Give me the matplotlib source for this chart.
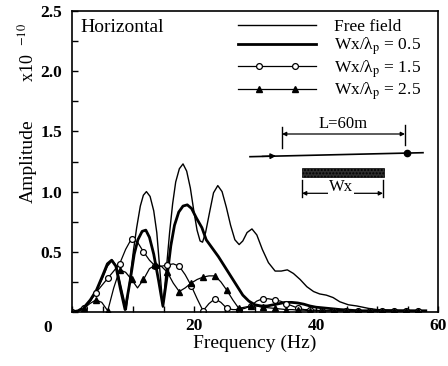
import numpy as np
import matplotlib
matplotlib.use('Agg')
import matplotlib.pyplot as plt
from matplotlib.lines import Line2D
from matplotlib.legend_handler import HandlerLine2D

plt.rcParams['font.family'] = ['Liberation Serif', 'DejaVu Serif']
plt.rcParams['mathtext.fontset'] = 'stix'

# free field (thin line)
free_f = [0, 1, 2, 3, 4, 5, 5.8, 6.6, 7.3, 8.0, 8.9, 9.6, 10.1, 10.6, 11.2, 11.7, 12.2, 12.8,
          13.4, 13.9, 14.4, 14.9, 15.4, 16.0, 16.5, 17.0, 17.6, 18.2, 18.8, 19.4, 20.0, 20.5,
          21.0, 21.4, 21.9, 22.6, 23.2, 23.9, 24.6, 25.3, 26.0, 26.7, 27.4, 28.0, 28.7, 29.5,
          30.3, 31.2, 32.2, 33.3, 34.3, 35.3, 36.3, 37.4, 38.5, 39.6, 40.6, 41.7, 42.8, 43.9,
          45.3, 46.7, 48.6, 50, 53, 58]
free_a = [0, 0.01, 0.04, 0.09, 0.17, 0.28, 0.38, 0.43, 0.38, 0.22, 0.02, 0.32, 0.52, 0.70, 0.88,
          0.97, 1.00, 0.96, 0.84, 0.66, 0.35, 0.04, 0.32, 0.66, 0.90, 1.08, 1.19, 1.23, 1.17,
          1.03, 0.83, 0.68, 0.59, 0.58, 0.66, 0.84, 0.99, 1.05, 1.00, 0.87, 0.72, 0.60, 0.56,
          0.59, 0.66, 0.69, 0.64, 0.52, 0.41, 0.34, 0.34, 0.35, 0.32, 0.27, 0.21, 0.17, 0.15,
          0.14, 0.12, 0.085, 0.06, 0.05, 0.03, 0.02, 0.015, 0.01]

# Wx/lp = 0.5 (thick line)
w05_f = [0, 1, 2, 3, 4, 5, 5.8, 6.5, 7.2, 7.9, 8.7, 9.5, 10.2, 10.8, 11.5, 12.1, 12.7, 13.4,
         14.2, 14.9, 15.6, 16.2, 16.8, 17.5, 18.2, 18.9, 19.6, 20.4, 21.3, 22, 23, 24, 25, 26,
         27, 28, 29, 30, 31, 32, 33, 34, 35, 36, 37, 38, 39, 40, 42, 44, 47, 58]
w05_a = [0, 0.01, 0.04, 0.10, 0.18, 0.30, 0.40, 0.43, 0.38, 0.20, 0.02, 0.25, 0.48, 0.60, 0.67,
         0.68, 0.62, 0.48, 0.26, 0.05, 0.30, 0.55, 0.72, 0.83, 0.88, 0.89, 0.86, 0.78, 0.70,
         0.60, 0.53, 0.46, 0.38, 0.30, 0.22, 0.14, 0.09, 0.06, 0.05, 0.05, 0.06, 0.07, 0.08,
         0.08, 0.075, 0.065, 0.05, 0.04, 0.03, 0.02, 0.01, 0.01]

# Wx/lp = 1.5 and 2.5 share one frequency grid (markers on every second point)
grid_f = [0, 0.98, 1.95, 2.93, 3.91, 4.88, 5.86, 6.84, 7.81, 8.79, 9.77, 10.74, 11.72, 12.70,
          13.67, 14.65, 15.63, 16.60, 17.58, 18.55, 19.53, 20.51, 21.48, 22.46, 23.44, 24.41,
          25.39, 26.37, 27.34, 28.32, 29.30, 30.27, 31.25, 32.23, 33.20, 34.18, 35.16, 36.13,
          37.11, 38.09, 39.06, 40.04, 41.02, 41.99, 42.97, 43.95, 44.92, 45.90, 46.88, 47.85,
          48.83, 49.80, 50.78, 51.76, 52.73, 53.71, 54.69, 55.66, 56.64]
w15_a = [0, 0.01, 0.03, 0.09, 0.16, 0.22, 0.28, 0.34, 0.40, 0.52, 0.61, 0.58, 0.50, 0.43,
         0.38, 0.38, 0.39, 0.40, 0.38, 0.31, 0.22, 0.11, 0.01, 0.07, 0.11, 0.08, 0.03, 0.02,
         0.02, 0.03, 0.05, 0.09, 0.11, 0.11, 0.10, 0.09, 0.07, 0.05, 0.03, 0.02, 0.02, 0.015,
         0.01, 0.01, 0.01, 0.01, 0.01, 0.01, 0.01, 0.01, 0.01, 0.01, 0.01, 0.01, 0.01, 0.01,
         0.01, 0.01, 0.01]
w25_a = [0, 0.01, 0.03, 0.07, 0.10, 0.08, 0.01, 0.20, 0.35, 0.33, 0.27, 0.20, 0.27, 0.36,
         0.39, 0.38, 0.33, 0.24, 0.17, 0.20, 0.24, 0.27, 0.29, 0.30, 0.30, 0.25, 0.18, 0.10,
         0.03, 0.04, 0.05, 0.05, 0.04, 0.035, 0.03, 0.025, 0.02, 0.02, 0.015, 0.015, 0.01,
         0.01, 0.01, 0.01, 0.01, 0.01, 0.01, 0.01, 0.01, 0.01, 0.01, 0.01, 0.01, 0.01, 0.01,
         0.01, 0.01, 0.01, 0.01]

labels = ['Free field', r'Wx/λ$_\mathrm{p}$ = 0.5', r'Wx/λ$_\mathrm{p}$ = 1.5',
          r'Wx/λ$_\mathrm{p}$ = 2.5']


class InsetMarkers(HandlerLine2D):
    # full-length legend line, two markers set in from the ends
    def create_artists(self, legend, orig_handle, xdescent, ydescent, width, height,
                       fontsize, trans):
        y = (height - ydescent) / 2
        line = Line2D([-xdescent, -xdescent + width], [y, y], color='black',
                      lw=orig_handle.get_linewidth())
        pad = 1.2 * fontsize
        mk = Line2D([-xdescent + pad, -xdescent + width - pad], [y, y], ls='none',
                    marker=orig_handle.get_marker(), ms=orig_handle.get_markersize(),
                    mfc=orig_handle.get_markerfacecolor(), mec='black',
                    mew=orig_handle.get_markeredgewidth())
        line.set_transform(trans)
        mk.set_transform(trans)
        return [line, mk]


fig = plt.figure(figsize=(4.48, 3.66), dpi=100)
ax = fig.add_axes([72 / 448, 54 / 366, 366 / 448, 301 / 366])

l0, = ax.plot(free_f, free_a, color='black', lw=1.0)
l1, = ax.plot(w05_f, w05_a, color='black', lw=2.0)
l2, = ax.plot(grid_f, w15_a, color='black', lw=0.9, marker='o', ms=4.2,
              mfc='white', mec='black', mew=0.9, markevery=2)
l3, = ax.plot(grid_f, w25_a, color='black', lw=0.9, marker='^', ms=4.2,
              mfc='black', mec='black', markevery=2)

ax.set_xlim(0, 60)
ax.set_ylim(0, 2.5)
ax.set_xticks(np.arange(0, 61, 5))
ax.set_xticklabels(['', '', '', '', '20', '', '', '', '40', '', '', '', '60'])
ax.set_yticks(np.arange(0, 2.51, 0.25))
ax.set_yticklabels(['', '', '0.5', '', '1.0', '', '1.5', '', '2.0', '', '2.5'])
ax.tick_params(direction='in', length=4, width=1, labelsize=12.5)
ax.tick_params(axis='y', pad=7)
ax.tick_params(axis='x', pad=4)
for lab in ax.get_xticklabels() + ax.get_yticklabels():
    lab.set_fontweight('bold')
for sp in ax.spines.values():
    sp.set_linewidth(1.2)

ax.set_xlabel('Frequency (Hz)', fontsize=14, labelpad=1)
ax.set_ylabel('Amplitude', fontsize=14, labelpad=3)
fig.text(48 / 448, 1 - 328 / 366, '0', fontsize=12.5, fontweight='bold',
         ha='center', va='center')
fig.text(27 / 448, 1 - 52 / 366, r'x10  $^{-10}$', fontsize=13, rotation=90,
         ha='center', va='center')

ax.text(0.022, 0.975, 'Horizontal', transform=ax.transAxes, fontsize=14,
        ha='left', va='top')

ax.legend([l0, l1, l2, l3], labels, loc='upper left', bbox_to_anchor=(0.4536, 0.975),
          frameon=False, fontsize=12.5, handlelength=4.5, handletextpad=1.0,
          borderpad=0, borderaxespad=0, labelspacing=0.05,
          handler_map={l2: InsetMarkers(), l3: InsetMarkers()})

# inset sketch
def axc(px, py):
    return ((px - 72) / 366, (312 - py) / 301)

tr = ax.transAxes
for x, y0, y1 in [(282, 127, 148), (405, 125, 145)]:
    a, b = axc(x, y0)
    _, c = axc(x, y1)
    ax.plot([a, a], [b, c], color='black', lw=1, transform=tr)
ax.annotate('', xy=axc(405, 134), xytext=axc(282, 134), xycoords=tr, textcoords=tr,
            arrowprops=dict(arrowstyle='<|-|>', color='black', lw=0.9,
                            mutation_scale=6, shrinkA=0, shrinkB=0))
ax.text(*axc(343, 124), 'L=60m', transform=tr, fontsize=12, ha='center', va='center')
p0 = axc(250, 156.7)
p1 = axc(423, 152.7)
ax.plot([p0[0], p1[0]], [p0[1], p1[1]], color='black', lw=1.2, transform=tr)
ax.annotate('', xy=axc(276, 156), xytext=axc(262, 156.4), xycoords=tr, textcoords=tr,
            arrowprops=dict(arrowstyle='-|>', color='black', lw=1,
                            mutation_scale=8, shrinkA=0, shrinkB=0))
ax.plot(*axc(406.7, 153.3), 'o', color='black', ms=4.5, transform=tr)
b0 = axc(302, 176.7)
b1 = axc(384, 168.3)
ax.add_patch(plt.Rectangle(b0, b1[0] - b0[0], b1[1] - b0[1], transform=tr,
                           facecolor='#2e2e2e', edgecolor='black', hatch='.....', lw=0.5))
for x in (302, 383):
    a, b = axc(x, 180)
    _, c = axc(x, 197)
    ax.plot([a, a], [b, c], color='black', lw=1, transform=tr)
ax.annotate('', xy=axc(383, 193.3), xytext=axc(302, 193.3), xycoords=tr, textcoords=tr,
            arrowprops=dict(arrowstyle='<|-|>', color='black', lw=0.9,
                            mutation_scale=6, shrinkA=0, shrinkB=0))
ax.text(*axc(341, 187), 'Wx', transform=tr, fontsize=12, ha='center', va='center',
        bbox=dict(facecolor='white', edgecolor='none', pad=0.5))

fig.savefig('out.png', dpi=100)
